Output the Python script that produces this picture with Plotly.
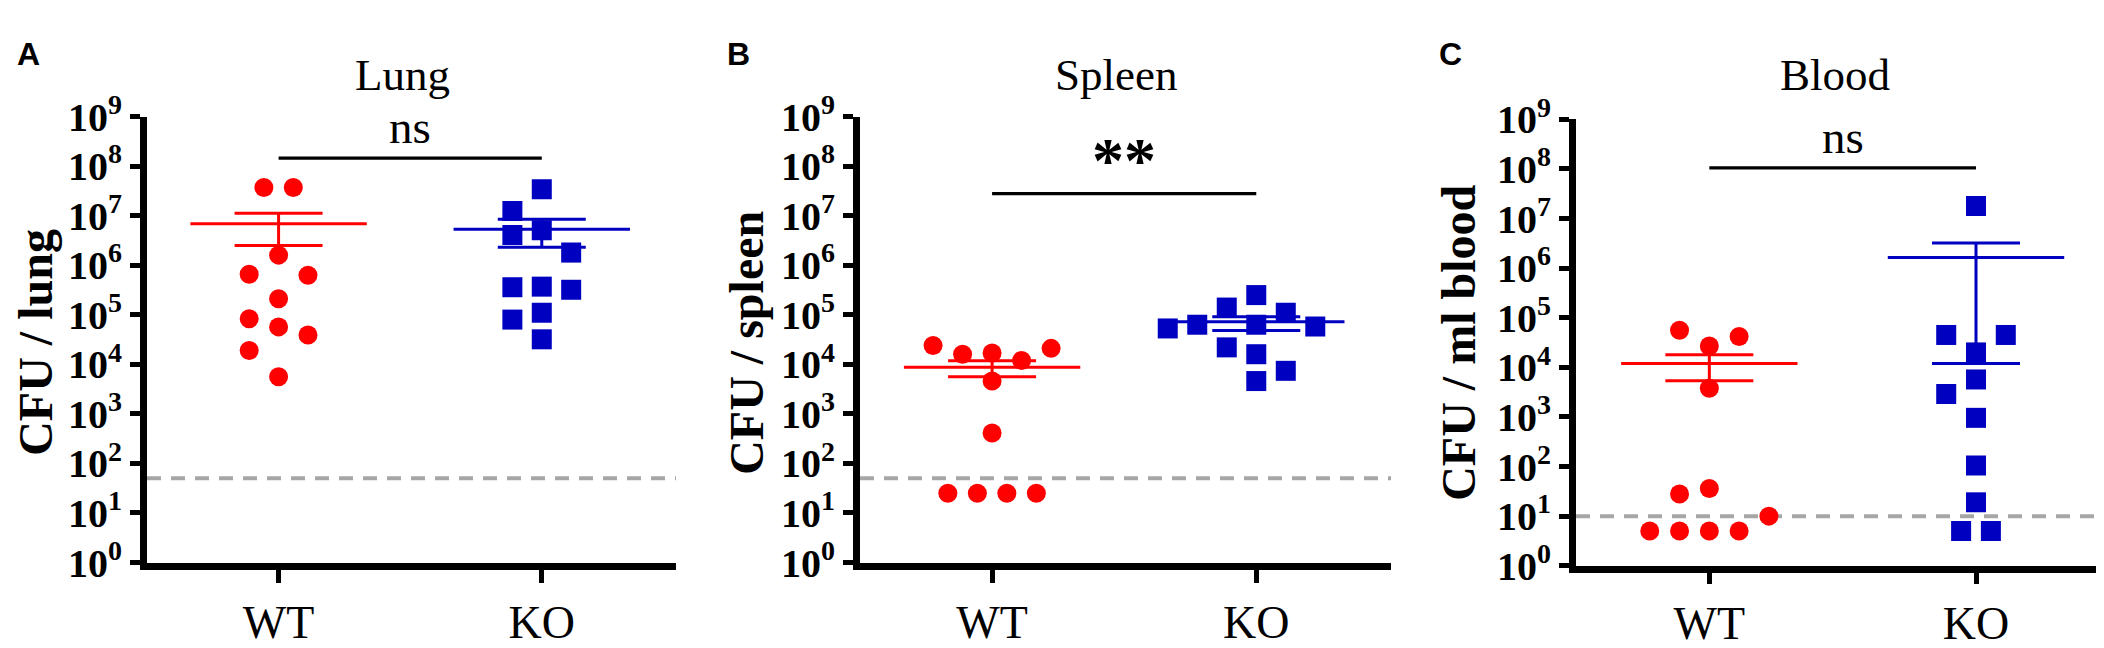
import numpy as np
import plotly.graph_objects as go

# CFU counts (one value per mouse)
organs = ["Lung", "Spleen", "Blood"]
y_titles = ["CFU / lung", "CFU / spleen", "CFU / ml blood"]
panel_tags = ["A", "B", "C"]
groups = ["WT", "KO"]

lung_wt = [3.7e7, 3.7e7, 1.6e6, 6.6e5, 6.3e5, 2.1e5, 8.3e4, 5.7e4, 3.9e4, 1.9e4, 5.6e3]
lung_ko = [3.4e7, 1.24e7, 5.1e6, 4.1e6, 1.8e6, 3.7e5, 3.6e5, 3.2e5, 1.1e5, 8.0e4, 3.2e4]
spleen_wt = [1.7e4, 1.6e4, 1.2e4, 2.4e4, 2.1e4, 4.6e3, 4.1e2, 25, 25, 25, 25]
spleen_ko = [2.5e5, 1.4e5, 1.1e5, 6.3e4, 6.3e4, 5.8e4, 5.3e4, 2.2e4, 1.6e4, 7.4e3, 4.6e3]
blood_wt = [2.7e4, 5.6e4, 4.2e4, 3.8e3, 5, 5, 5, 5, 10, 36, 28]
blood_ko = [1.8e7, 2.0e4, 4.5e4, 4.5e4, 5.7e3, 2.9e3, 9.6e2, 1.05e2, 19, 5, 5]

# mean and SEM ends as drawn
wt_mean = [6.9e6, 8.7e3, 1.2e4]
wt_hi = [1.12e7, 1.18e4, 1.8e4]
wt_lo = [2.5e6, 5.6e3, 5.4e3]
ko_mean = [5.3e6, 7.2e4, 1.65e6]
ko_hi = [8.5e6, 9.1e4, 3.2e6]
ko_lo = [2.3e6, 4.8e4, 1.2e4]

# detection limit and significance bars
lod = [50, 50, 10]
sig_level = [1.45e8, 2.8e7, 1.05e8]
sig_text = ["ns", "**", "ns"]

exponents = [0, 1, 2, 3, 4, 5, 6, 7, 8, 9]
tick_text = ["10<sup>%d</sup>" % e for e in exponents]

W, H = 2104, 648
RED = "#ff0000"
BLUE = "#0000c0"
SERIF = "Liberation Serif"
SANS = "Liberation Sans"

LW = 7
x_dom = [(139, 668), (852, 1383), (1568, 2104)]
y_dom = [(87.5, 571.5), (87.5, 571.5), (90.5, 575)]
X_RANGE = [-0.5, 1.51]

PX_DECADE = 54.2
PX_UNIT = 265.0
STEP = 14.8      # half spacing between neighbours (px)
MIN_DIST = 26.0  # centre distance that counts as overlap (px)


def swarm(values):
    # greedy column-scatter layout, roughly what Prism does
    ys = np.log10(values) * PX_DECADE
    cand = [0, -2, 2, -1, 1, -4, 4, -3, 3, -6, 6, -5, 5, -8, 8]
    xs = []
    for i, y in enumerate(ys):
        for c in cand:
            x = c * STEP
            if all(np.hypot(x - xs[j], y - ys[j]) >= MIN_DIST for j in range(i)):
                xs.append(x)
                break
    xs = np.array(xs)
    # centre rows of identical values when nothing else is close
    vals = np.array(values)
    for v in set(values):
        idx = np.where(vals == v)[0]
        if len(idx) < 2:
            continue
        others = [j for j in range(len(vals)) if vals[j] != v]
        if all(abs(ys[j] - ys[idx[0]]) >= MIN_DIST for j in others):
            xs[idx] -= xs[idx].mean()
    return xs / PX_UNIT


data = [(lung_wt, lung_ko), (spleen_wt, spleen_ko), (blood_wt, blood_ko)]
means = [(wt_mean, wt_hi, wt_lo), (ko_mean, ko_hi, ko_lo)]

fig = go.Figure()

for p in range(3):
    xa = "x" if p == 0 else "x%d" % (p + 1)
    ya = "y" if p == 0 else "y%d" % (p + 1)

    # detection limit
    fig.add_trace(go.Scatter(
        x=X_RANGE, y=[lod[p], lod[p]], mode="lines",
        line=dict(color="#a6a6a6", width=4, dash="14px,10px"),
        xaxis=xa, yaxis=ya, showlegend=False, hoverinfo="skip"))

    for g in range(2):
        vals = data[p][g]
        col = RED if g == 0 else BLUE
        fig.add_trace(go.Scatter(
            x=g + swarm(vals), y=vals, mode="markers",
            marker=dict(symbol="circle" if g == 0 else "square",
                        size=19 if g == 0 else 20, color=col),
            xaxis=xa, yaxis=ya, showlegend=False))

        m, hi, lo = means[g][0][p], means[g][1][p], means[g][2][p]
        fig.add_trace(go.Scatter(
            x=[g], y=[m], mode="markers",
            marker=dict(symbol="line-ew", size=126,
                        line=dict(color=col, width=3)),
            error_y=dict(type="data", symmetric=False, array=[hi - m],
                         arrayminus=[m - lo], color=col, thickness=3, width=44),
            xaxis=xa, yaxis=ya, showlegend=False))

    # significance bar
    fig.add_trace(go.Scatter(
        x=[0, 1], y=[sig_level[p], sig_level[p]], mode="lines",
        line=dict(color="black", width=3.3),
        xaxis=xa, yaxis=ya, showlegend=False, hoverinfo="skip"))

    if p == 1:
        sig_font = dict(family=SERIF, size=64, color="black", weight="bold")
        shift = -4
    else:
        sig_font = dict(family=SERIF, size=47, color="black")
        shift = 3
    fig.add_annotation(
        x=0.5, y=np.log10(sig_level[p]), xref=xa, yref=ya,
        text=sig_text[p], showarrow=False, yanchor="bottom",
        yshift=shift, font=sig_font)

    # panel title
    fig.add_annotation(
        x=0.47, y=1 - 42 / H, xref=xa, yref="paper", text=organs[p],
        showarrow=False, yanchor="middle",
        font=dict(family=SERIF, size=45, color="black"))

    # y title
    fig.add_annotation(
        x=[28, 739, 1451][p] / W, y=1 - 333 / H, xref="paper", yref="paper",
        text="<b>%s</b>" % y_titles[p], textangle=-90, showarrow=False,
        xanchor="center", yanchor="middle",
        font=dict(family=SERIF, size=48, color="black"))

    # panel letter
    fig.add_annotation(
        x=[7, 717, 1429][p] / W, y=1 - 20 / H, xref="paper", yref="paper",
        text="<b>%s</b>" % panel_tags[p], showarrow=False,
        xanchor="left", yanchor="middle",
        font=dict(family=SANS, size=32, color="black"))

    x0, x1 = x_dom[p]
    top, bot = y_dom[p]
    axis_common = dict(showline=True, linewidth=LW, linecolor="black",
                       ticks="outside", tickwidth=5, tickcolor="black",
                       showgrid=False, zeroline=False)
    fig.update_layout({
        ("xaxis" if p == 0 else "xaxis%d" % (p + 1)): dict(
            domain=[x0 / W, x1 / W], anchor=ya, range=X_RANGE,
            tickvals=[0, 1], ticktext=groups, ticklen=13 if p < 2 else 11,
            tickfont=dict(family=SERIF, size=46, color="black"),
            **axis_common),
        ("yaxis" if p == 0 else "yaxis%d" % (p + 1)): dict(
            domain=[1 - bot / H, 1 - top / H], anchor=xa, type="log",
            range=[0, 9], tickvals=[10.0 ** e for e in exponents],
            ticktext=tick_text, ticklen=10,
            tickfont=dict(family=SERIF, size=40, color="black", weight="bold"),
            **axis_common),
    })

fig.update_layout(
    width=W, height=H,
    margin=dict(l=0, r=0, t=0, b=0),
    paper_bgcolor="white", plot_bgcolor="white",
    showlegend=False,
)

fig.write_html("out.html")
